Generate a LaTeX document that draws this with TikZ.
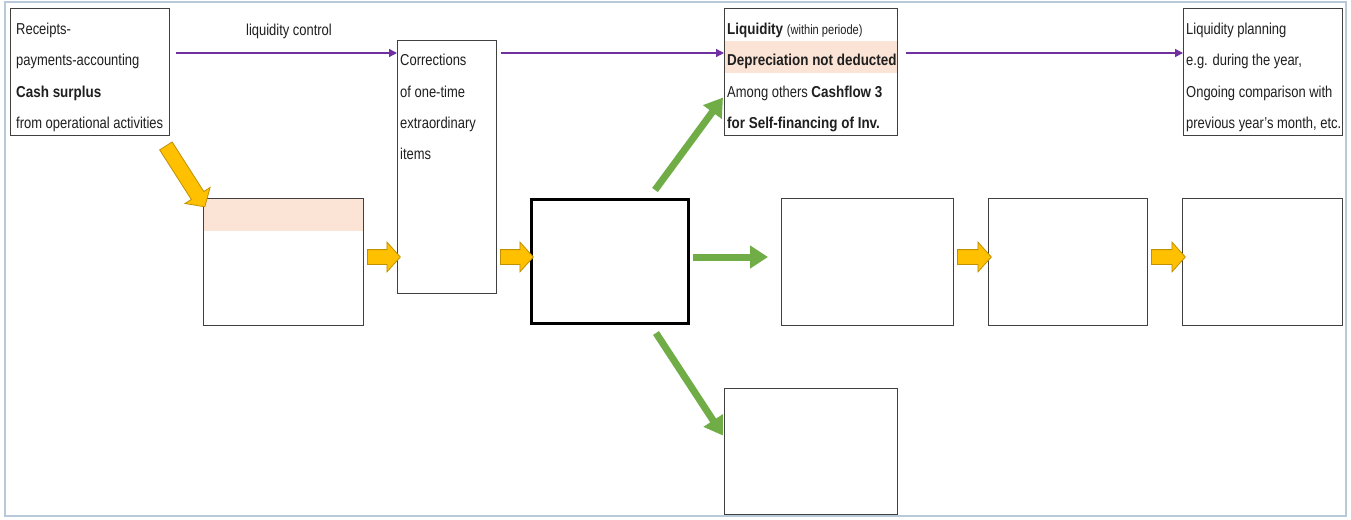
\documentclass[tikz,border=0pt]{standalone}
\usepackage{fontspec}
\setmainfont{Liberation Sans}[FakeStretch=0.82,BoldFeatures={FakeStretch=0.85}]
\usetikzlibrary{arrows.meta,shapes.arrows,calc}
\definecolor{frameblue}{HTML}{B8C9D9}
\definecolor{boxline}{HTML}{404040}
\definecolor{peach}{HTML}{FBE3D5}
\definecolor{gold}{HTML}{FFC000}
\definecolor{golddark}{HTML}{BF9000}
\definecolor{leaf}{HTML}{70AD47}
\definecolor{lilac}{HTML}{7030A0}
% block arrow laid between two points, its length taken from their distance
\newcommand\goldarrow[2]{%
  \path let \p1=(#1), \p2=(#2), \n1={veclen(\x2-\x1,\y2-\y1)} in
    (\p1) -- node[yarrow, minimum height=\n1] {} (\p2);}
\begin{document}
\begin{tikzpicture}[x=1pt,y=-1pt,
  box/.style={draw=boxline, line width=1.1pt, anchor=north west, inner sep=0pt},
  band/.style 2 args={path picture={\fill[peach]
      ($(path picture bounding box.north west)+(0,#1)$) rectangle
      ($(path picture bounding box.north east)+(0,#2)$);}},
  txt/.style={anchor=base west, inner sep=0pt, text=black!88,
      font=\fontsize{15.8}{19}\selectfont},
  yarrow/.style={single arrow, fill=gold, draw=golddark, line width=0.8pt,
      inner xsep=0pt, inner ysep=7pt, single arrow head extend=7.5pt,
      single arrow tip angle=96, sloped, allow upside down},
  garrow/.style={draw=leaf, line width=7pt, -{Triangle[length=18pt,width=22pt]}},
  parrow/.style={draw=lilac, line width=1.4pt, -{Triangle[length=8pt,width=8pt]}},
]
\useasboundingbox (0,0) rectangle (1351,519);
\fill[white] (0,0) rectangle (1351,519);
\draw[frameblue, line width=1.5pt] (5,2) rectangle (1346,516);

% boxes
\node[box, minimum width=159pt, minimum height=127pt] (A) at (10,8) {};
\node[box, minimum width=99pt,  minimum height=253pt] (B) at (397,40) {};
\node[box, band={32}{64}, minimum width=173pt, minimum height=127pt] (C) at (724,8) {};
\node[box, minimum width=159pt, minimum height=127pt] (D) at (1183,8) {};
\node[box, band={0}{32}, minimum width=160pt, minimum height=127pt] (E) at (203,198) {};
\node[box, draw=black, line width=3pt, minimum width=157pt, minimum height=124pt] (F) at (530,198) {};
\node[box, minimum width=172pt, minimum height=127pt] (G) at (781,198) {};
\node[box, minimum width=159pt, minimum height=127pt] (H) at (988,198) {};
\node[box, minimum width=160pt, minimum height=127pt] (I) at (1182,198) {};
\node[box, minimum width=173pt, minimum height=126pt] (J) at (724,388) {};

% texts
\node[txt] (a1) at (16,35) {Receipts-};
\node[txt] (a2) at (16,66) {payments-accounting};
\node[txt] (a3) at (16,97) {\bfseries Cash surplus};
\node[txt] (a4) at (16,128) {from operational activities};

\node[txt] (b1) at (400,66) {Corrections};
\node[txt] (b2) at (400,97) {of one-time};
\node[txt] (b3) at (400,128) {extraordinary};
\node[txt] (b4) at (400,159) {items};

\node[txt] (c1) at (727,35) {\bfseries Liquidity {\mdseries\fontsize{13.5}{16}\selectfont(within periode)}};
\node[txt] (c2) at (727,66) {\bfseries Depreciation not deducted};
\node[txt] (c3) at (727,97) {Among others \textbf{Cashflow 3}};
\node[txt] (c4) at (727,128) {\bfseries for Self-financing of Inv.};

\node[txt] (d1) at (1186,35) {Liquidity planning};
\node[txt] (d2) at (1186,66) {e.g. during the year,};
\node[txt] (d3) at (1186,97) {Ongoing comparison with};
\node[txt] (d4) at (1186,128) {previous year's month, etc.};

\node[txt, anchor=base] (lc) at (289,36) {liquidity control};

% liquidity control line
\coordinate (pl) at (0,53);
\draw[parrow] ($(A.east |- pl)+(6,0)$) -- (B.west |- pl);
\draw[parrow] ($(B.east |- pl)+(4,0)$) -- (C.west |- pl);
\draw[parrow] ($(C.east |- pl)+(8,0)$) -- (D.west |- pl);

% yellow block arrows
\coordinate (lane) at (0,257);
\coordinate (ys) at ($(A.south east)+(-6,7)$);
\coordinate (yt) at ($(E.north west)+(0,6)$);
\goldarrow{ys}{yt}
\goldarrow{E.east |- lane}{B.west |- lane}
\goldarrow{B.east |- lane}{F.west |- lane}
\goldarrow{G.east |- lane}{H.west |- lane}
\goldarrow{H.east |- lane}{I.west |- lane}

% green arrows
\coordinate (gu) at ($(F.north west)+(125,-8)$);
\coordinate (gd) at ($(F.south west)+(126,8)$);
\draw[garrow] (gu) -- ($(C.west)+(-1,25.5)$);
\draw[garrow] ($(F.east |- lane)+(3,0)$) -- ($(G.west |- lane)+(-13,0)$);
\draw[garrow] (gd) -- ($(J.west)+(-1,-16)$);
\end{tikzpicture}
\end{document}
